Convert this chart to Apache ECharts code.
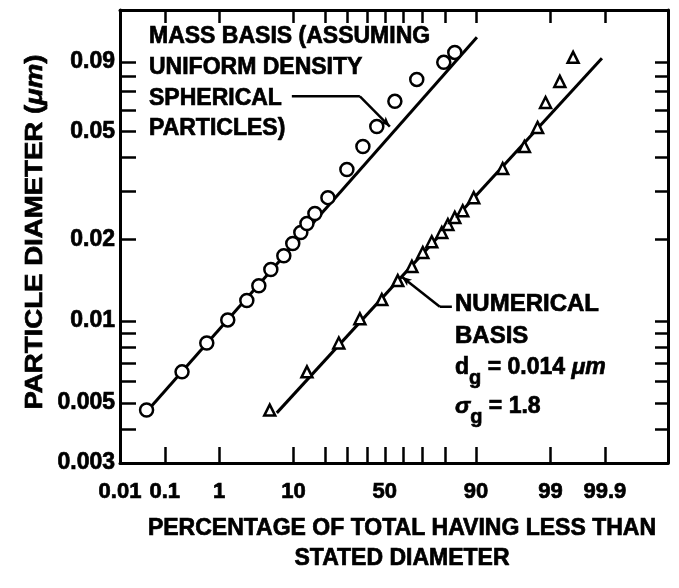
<!DOCTYPE html>
<html><head><meta charset="utf-8">
<script src="https://cdn.jsdelivr.net/npm/echarts@6/dist/echarts.min.js"></script>
<style>html,body{margin:0;padding:0;background:#fff}#c{width:679px;height:588px}</style>
</head><body><div id="c"></div>
<script>
// ---- data (percent having less than stated diameter, diameter in µm) ----
const massPct  = [0.041, 0.22, 0.62, 1.37, 2.63, 3.84, 5.47, 7.8, 9.8, 11.9, 13.7, 16.3, 21.2, 29.7, 37.9, 45.5, 55.6, 67.3, 79.6, 83.7];
const massDiam = [0.0047, 0.0065, 0.0083, 0.0101, 0.0119, 0.0135, 0.0155, 0.0174, 0.0193, 0.0212, 0.0229, 0.0249, 0.0285, 0.0362, 0.044, 0.0521, 0.0645, 0.0777, 0.0898, 0.0977];
const numPct   = [5.3, 13.7, 25.9, 36.3, 48.3, 57.2, 64.8, 70.3, 74.5, 78.8, 81.2, 83.7, 86.3, 89.4, 95.1, 97.5, 98.4, 98.8, 99.3, 99.59];
const numDiam  = [0.0047, 0.0065, 0.0083, 0.0102, 0.012, 0.0141, 0.0159, 0.0179, 0.0196, 0.0212, 0.0227, 0.0241, 0.0255, 0.0285, 0.0365, 0.044, 0.0517, 0.0639, 0.0764, 0.0937];
const massFitPct  = [0.041, 90.2];
const massFitDiam = [0.00463, 0.111];
const numFitPct   = [6.46, 99.885];
const numFitDiam  = [0.00459, 0.0929];
const massLeaderPct  = [9.58, 36.3, 52.8];
const massLeaderDiam = [0.0673, 0.0673, 0.0521];
const numLeaderPct   = [82.67, 78.0, 59.4];
const numLeaderDiam  = [0.01129, 0.01129, 0.01457];
// ---- axes ----
const xRangePct  = [0.01, 99.9965];
const xTickPct   = [0.1, 1, 10, 20, 30, 40, 50, 60, 70, 80, 90, 99, 99.9];
const xLabelPct  = [0.01, 0.1, 1, 10, 50, 90, 99, 99.9];
const xLabelText = ['0.01', '0.1', '1', '10', '50', '90', '99', '99.9'];
const yRange     = [0.003, 0.14];
const yTicks     = [0.004, 0.005, 0.006, 0.007, 0.008, 0.009, 0.01, 0.02, 0.03, 0.04, 0.05, 0.06, 0.07, 0.08, 0.09];
const yLabels    = [0.003, 0.005, 0.01, 0.02, 0.05, 0.09];
const yLabelText = ['0.003', '0.005', '0.01', '0.02', '0.05', '0.09'];

// inverse normal CDF (Acklam) -> probability-scale axis
function probit(p){
  const a=[-3.969683028665376e+01,2.209460984245205e+02,-2.759285104469687e+02,1.383577518672690e+02,-3.066479806614716e+01,2.506628277459239e+00];
  const b=[-5.447609879822406e+01,1.615858368580409e+02,-1.556989798598866e+02,6.680131188771972e+01,-1.328068155288572e+01];
  const c=[-7.784894002430293e-03,-3.223964580411365e-01,-2.400758277161838e+00,-2.549732539343734e+00,4.374664141464968e+00,2.938163982698783e+00];
  const d=[7.784695709041462e-03,3.224671290700398e-01,2.445134137142996e+00,3.754408661907416e+00];
  const pl=0.02425, ph=1-pl; let q,r;
  if(p<pl){q=Math.sqrt(-2*Math.log(p));return (((((c[0]*q+c[1])*q+c[2])*q+c[3])*q+c[4])*q+c[5])/((((d[0]*q+d[1])*q+d[2])*q+d[3])*q+1);}
  if(p<=ph){q=p-0.5;r=q*q;return (((((a[0]*r+a[1])*r+a[2])*r+a[3])*r+a[4])*r+a[5])*q/(((((b[0]*r+b[1])*r+b[2])*r+b[3])*r+b[4])*r+1);}
  q=Math.sqrt(-2*Math.log(1-p));return -(((((c[0]*q+c[1])*q+c[2])*q+c[3])*q+c[4])*q+c[5])/((((d[0]*q+d[1])*q+d[2])*q+d[3])*q+1);
}
const P = pct => probit(pct/100);
const pairs = (xs, ys) => xs.map((x,i)=>[P(x), ys[i]]);

const FONT = '"Liberation Sans", Arial, Helvetica, sans-serif';
const BLACK = '#000';
const HEAVY = 0.7;

function xFmt(v){ for(let i=0;i<xLabelPct.length;i++){ if(Math.abs(P(xLabelPct[i])-v)<1e-6) return xLabelText[i]; } return ''; }
function yFmt(v){ for(let i=0;i<yLabels.length;i++){ if(Math.abs(v/yLabels[i]-1)<1e-6) return yLabelText[i]; } return ''; }

function labelStyle(size){ return {fontFamily:FONT, fontWeight:'bold', fontSize:size, color:BLACK, textBorderColor:BLACK, textBorderWidth:HEAVY}; }
function xAxisCfg(pos, showLabel, tickLen){
  return {type:'value', position:pos, min:P(xRangePct[0]), max:P(xRangePct[1]),
    axisLine:{show:true, onZero:false, lineStyle:{color:BLACK, width:3}},
    axisTick:{show:true, inside:true, length:tickLen, lineStyle:{color:BLACK, width:2.5}, customValues:xTickPct.map(P)},
    axisLabel:Object.assign({show:showLabel, margin:18, customValues:xLabelPct.map(P), formatter:xFmt}, labelStyle(22)),
    splitLine:{show:false}};
}
function yAxisCfg(pos, showLabel, tickLen){
  return {type:'log', logBase:10, position:pos, min:yRange[0], max:yRange[1],
    axisLine:{show:true, onZero:false, lineStyle:{color:BLACK, width:3}},
    axisTick:{show:true, inside:true, length:tickLen, lineStyle:{color:BLACK, width:2.5}, customValues:yTicks},
    axisLabel:Object.assign({show:showLabel, margin:5, customValues:yLabels, formatter:yFmt}, labelStyle(23)),
    splitLine:{show:false}};
}

const chart = echarts.init(document.getElementById('c'), null, {renderer:'canvas'});
const T = (x,y,text,extra) => ({type:'text', x:x, y:y, z:10, style:Object.assign({text:text, fill:BLACK, stroke:BLACK, lineWidth:HEAVY, font:'bold 23px '+FONT, align:'left', verticalAlign:'middle'}, extra||{})});
const tok = (size, italic, lh, va) => ({fontFamily:FONT, fontWeight:'bold', fontStyle:italic?'italic':'normal', fontSize:size, lineHeight:lh, verticalAlign:va, fill:BLACK, stroke:BLACK, lineWidth:HEAVY});
const rich = {a:tok(23,false,40,'middle'), i:tok(23,true,40,'middle'), s:tok(20,false,18,'bottom')};

chart.setOption({
  animation:false,
  backgroundColor:'#fff',
  grid:{left:120, right:11, top:10, bottom:125, containLabel:false},
  xAxis:[xAxisCfg('bottom', true, 16), xAxisCfg('top', false, 13)],
  yAxis:[yAxisCfg('left', true, 16), yAxisCfg('right', false, 13)],
  series:[
    {type:'line', data:pairs(massFitPct, massFitDiam), showSymbol:false, symbol:'none', lineStyle:{color:BLACK, width:3}, z:2},
    {type:'line', data:pairs(numFitPct, numFitDiam), showSymbol:false, symbol:'none', lineStyle:{color:BLACK, width:3}, z:2},
    {type:'scatter', data:pairs(massPct, massDiam), symbol:'circle', symbolSize:13, itemStyle:{color:'#fff', borderColor:BLACK, borderWidth:2.5, opacity:1}, z:3},
    {type:'scatter', data:pairs(numPct, numDiam), symbol:'triangle', symbolSize:11, itemStyle:{color:'#fff', borderColor:BLACK, borderWidth:2.5, opacity:1}, z:3},
    {type:'line', data:pairs(massLeaderPct.slice(0,2), massLeaderDiam.slice(0,2)), symbol:'none', lineStyle:{color:BLACK, width:2.5}, z:4,
      markLine:{silent:true, symbol:['none','arrow'], symbolSize:[6,10], label:{show:false}, lineStyle:{color:BLACK, width:2.5, type:'solid'},
        data:[[{coord:[P(massLeaderPct[1]), massLeaderDiam[1]]},{coord:[P(massLeaderPct[2]), massLeaderDiam[2]]}]]}},
    {type:'line', data:pairs(numLeaderPct.slice(0,2), numLeaderDiam.slice(0,2)), symbol:'none', lineStyle:{color:BLACK, width:2.5}, z:4,
      markLine:{silent:true, symbol:['none','arrow'], symbolSize:[6,10], label:{show:false}, lineStyle:{color:BLACK, width:2.5, type:'solid'},
        data:[[{coord:[P(numLeaderPct[1]), numLeaderDiam[1]]},{coord:[P(numLeaderPct[2]), numLeaderDiam[2]]}]]}}
  ],
  graphic:[
    T(149, 37, 'MASS BASIS (ASSUMING'),
    T(149, 68, 'UNIFORM DENSITY'),
    T(149, 99, 'SPHERICAL'),
    T(149, 129, 'PARTICLES)'),
    T(455, 304, 'NUMERICAL', {font:'bold 24px '+FONT}),
    T(455, 336, 'BASIS', {font:'bold 24px '+FONT}),
    {type:'text', x:455, y:368, z:10, style:{text:'{a|d}{s|g}{a| = 0.014 }{i|\u03bcm}', rich:rich, align:'left', verticalAlign:'middle'}},
    {type:'text', x:455, y:407, z:10, style:{text:'{i|\u03c3}{s|g}{a| = 1.8}', rich:rich, align:'left', verticalAlign:'middle'}},
    T(402, 529, 'PERCENTAGE OF TOTAL HAVING LESS THAN', {align:'center'}),
    T(402, 559, 'STATED DIAMETER', {align:'center'}),
    {type:'text', x:35, y:232, rotation:Math.PI/2, scaleX:1.15, scaleY:1, z:10, style:{text:'{a|PARTICLE DIAMETER (}{i|\u03bcm}{a|)}', align:'center', verticalAlign:'middle',
      rich:{a:tok(24,false,28,'middle'), i:tok(24,true,28,'middle')}}}
  ]
});
</script>
</body></html>
